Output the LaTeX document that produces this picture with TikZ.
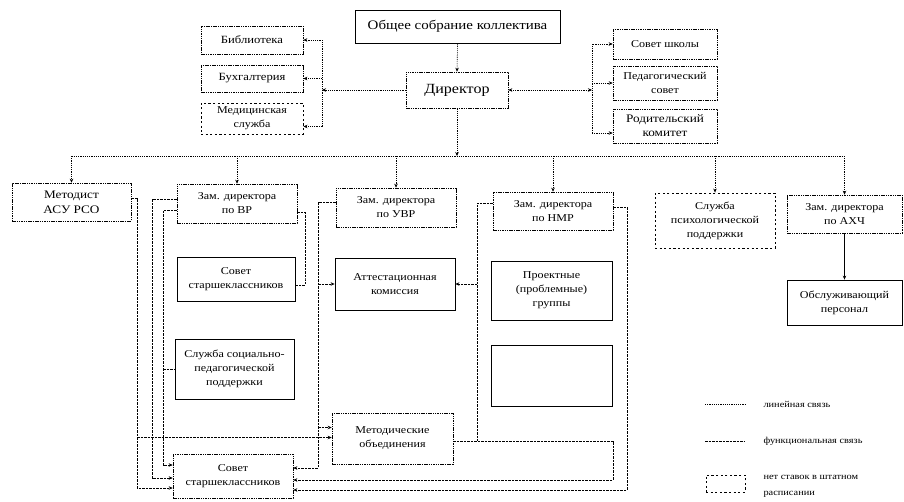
\documentclass[tikz,border=0pt]{standalone}
\usepackage{fontspec}
\setmainfont{Liberation Serif}[FakeStretch=1.15]
\usetikzlibrary{arrows.meta}

\newcommand\bxfont{\fontsize{10.5}{14}\selectfont}
\newcommand\lgfont{\fontsize{9}{16}\selectfont}

\tikzset{
  solidbox/.style={draw, line width=0.8pt, inner sep=1pt, align=center, font=\bxfont},
  dashbox/.style={solidbox, line width=0.6pt, dash pattern=on 1.5pt off 0.8pt},
  nostaff/.style={solidbox, line width=0.9pt, dash pattern=on 2.2pt off 2.4pt},
  lin/.style={line width=0.6pt, dash pattern=on 1.2pt off 1pt},
  fun/.style={line width=0.6pt, dash pattern=on 2.5pt off 1pt},
  >={Stealth[length=4pt,width=3.5pt]}
}

\begin{document}
\begin{tikzpicture}[x=1pt, y=-1pt]
  \useasboundingbox (0,0) rectangle (904,501);

  \node[solidbox, minimum width=205pt, minimum height=33pt, font=\fontsize{13}{15}\selectfont] (sobr) at (457.5,26.5) {Общее собрание коллектива};
  \node[dashbox, minimum width=102pt, minimum height=36pt, font=\fontsize{14}{16}\selectfont] (dir) at (457,90) {Директор};
  \node[dashbox, minimum width=102pt, minimum height=28pt, font=\fontsize{11}{14}\selectfont] (bibl) at (252,40) {Библиотека};
  \node[dashbox, minimum width=102pt, minimum height=27pt, font=\fontsize{11}{14}\selectfont] (buh) at (252,78.5) {Бухгалтерия};
  \node[nostaff, minimum width=102pt, minimum height=31pt] (med) at (252,118.5) {Медицинская\\служба};
  \node[dashbox, minimum width=104pt, minimum height=30pt] (sovet) at (665,44) {Совет школы};
  \node[dashbox, minimum width=104pt, minimum height=34pt] (pedsov) at (665,83) {Педагогический\\совет};
  \node[dashbox, minimum width=104pt, minimum height=34pt, font=\fontsize{11.5}{14}\selectfont] (rodkom) at (665,126) {Родительский\\комитет};

  \node[dashbox, minimum width=119pt, minimum height=38pt, font=\fontsize{11.5}{15}\selectfont] (metod) at (71.5,202) {Методист\\АСУ РСО};
  \node[dashbox, minimum width=120pt, minimum height=39pt] (zamvr) at (237,203.5) {Зам. директора\\по ВР};
  \node[dashbox, minimum width=120pt, minimum height=39pt] (zamuvr) at (396,207.5) {Зам. директора\\по УВР};
  \node[dashbox, minimum width=120pt, minimum height=38pt] (zamnmr) at (553,211) {Зам. директора\\по НМР};
  \node[nostaff, minimum width=120pt, minimum height=55pt] (psy) at (715,220.5) {Служба\\психологической\\поддержки};
  \node[dashbox, minimum width=115pt, minimum height=38pt] (zamahch) at (844.5,214) {Зам. директора\\по АХЧ};
  \node[solidbox, minimum width=115pt, minimum height=45pt] (obsl) at (844.5,302.5) {Обслуживающий\\персонал};

  \node[solidbox, minimum width=118pt, minimum height=44pt] (sovst) at (236,279) {Совет\\старшеклассников};
  \node[solidbox, minimum width=119pt, minimum height=60pt] (socped) at (234.5,369) {Служба социально-\\педагогической\\поддержки};
  \node[dashbox, minimum width=120pt, minimum height=44pt] (sovst2) at (233,476) {Совет\\старшеклассников};
  \node[solidbox, minimum width=120pt, minimum height=52pt] (attest) at (395,284) {Аттестационная\\комиссия};
  \node[dashbox, minimum width=121pt, minimum height=51pt] (metob) at (392.5,438.5) {Методические\\объединения};
  \node[solidbox, minimum width=121pt, minimum height=59pt] (proekt) at (551.5,290.5) {Проектные\\(проблемные)\\группы};
  \node[solidbox, minimum width=121pt, minimum height=61pt] (blank) at (551.5,375.5) {};

  \coordinate (brL) at (322,0);
  \coordinate (brR) at (592,0);
  \coordinate (bus) at (0,156);
  \coordinate (railM) at (137,0);
  \coordinate (railV1) at (152,0);
  \coordinate (railV2) at (163,0);
  \coordinate (railVR) at (305,0);
  \coordinate (railU) at (318,0);
  \coordinate (railN) at (477,0);
  \coordinate (railMO) at (613,0);
  \coordinate (railN2) at (627,0);

  \coordinate (medA) at ([yshift=-8pt]med.east);
  \coordinate (rodA) at ([yshift=-7pt]rodkom.west);
  \coordinate (s2l1) at ([yshift=11pt]sovst2.west);
  \coordinate (s2l2) at ([yshift=-2pt]sovst2.west);
  \coordinate (s2l3) at ([yshift=-12pt]sovst2.west);
  \coordinate (s2r1) at ([yshift=8pt]sovst2.east);
  \coordinate (s2r2) at ([yshift=-4pt]sovst2.east);
  \coordinate (s2r3) at ([yshift=-14pt]sovst2.east);
  \coordinate (moL1) at ([yshift=11pt]metob.west);
  \coordinate (moL2) at ([yshift=1pt]metob.west);
  \coordinate (moR) at ([yshift=-2.5pt]metob.east);

  \draw[lin,->] (sobr.south) -- (dir.north);
  \draw[lin,->] (dir.west) -- (brL |- dir.west);
  \draw[lin,->] (brL |- medA) -- (brL |- bibl.east) -- (bibl.east);
  \draw[lin,->] (brL |- buh.east) -- (buh.east);
  \draw[lin,->] (brL |- medA) -- (medA);
  \draw[lin,<->] (dir.east) -- (brR |- dir.east);
  \draw[lin,->] (brR |- rodA) -- (brR |- sovet.west) -- (sovet.west);
  \draw[lin,->] (brR |- pedsov.west) -- (pedsov.west);
  \draw[lin,->] (brR |- rodA) -- (rodA);

  \draw[lin,->] (dir.south) -- (dir.south |- bus);
  \draw[lin] (metod.north |- bus) -- (zamahch.north |- bus);
  \draw[lin,->] (metod.north |- bus) -- (metod.north);
  \draw[lin,->] (zamvr.north |- bus) -- (zamvr.north);
  \draw[lin,->] (zamuvr.north |- bus) -- (zamuvr.north);
  \draw[lin,->] (zamnmr.north |- bus) -- (zamnmr.north);
  \draw[lin,->] (psy.north |- bus) -- (psy.north);
  \draw[lin,->] (zamahch.north |- bus) -- (zamahch.north);
  \draw[line width=0.9pt,->] (zamahch.south) -- (obsl.north);

  \draw[fun] ([yshift=-9pt]zamvr.east) -| (railVR |- sovst.east) |- ([yshift=-6pt]sovst.east);
  \draw[fun,->] ([yshift=4pt]metod.east) -| (railM |- s2l3) -- (s2l3);
  \draw[fun,->] (railM |- moL2) -- (moL2);
  \draw[fun,->] ([yshift=4pt]zamvr.west) -| (railV1 |- s2l2) -- (s2l2);
  \draw[fun,->] ([yshift=-7pt]zamvr.west) -| (railV2 |- s2l1) -- (s2l1);
  \draw[fun] (railV2 |- socped.west) -- (socped.west);

  \draw[fun,->] ([yshift=5pt]zamuvr.west) -| (railU |- s2r1) -- (s2r1);
  \draw[fun,->] (railU |- attest.west) -- (attest.west);
  \draw[fun,->] (railU |- moL1) -- (moL1);

  \draw[fun] ([yshift=8pt]zamnmr.west) -| (railN |- moR);
  \draw[fun,->] (railN |- attest.east) -- (attest.east);
  \draw[fun,->] (moR) -| (railMO |- s2r2) -- (s2r2);
  \draw[fun,->] ([yshift=4pt]zamnmr.east) -| (railN2 |- s2r3) -- (s2r3);

  \coordinate (lg1) at (705,404);
  \coordinate (lg2) at (705,441);
  \draw[lin] (lg1) -- ++(40,0);
  \node[anchor=west, font=\lgfont] (lgt1) at (760,404) {линейная связь};
  \draw[fun] (lg2) -- ++(40,0);
  \node[anchor=west, font=\lgfont] (lgt2) at (760,441) {функциональная связь};
  \node[nostaff, minimum width=39pt, minimum height=17pt] (lgbox) at (725.5,483.5) {};
  \node[anchor=west, align=left, font=\lgfont] (lgt3) at (760,486) {нет ставок в штатном\\расписании};
\end{tikzpicture}
\end{document}
